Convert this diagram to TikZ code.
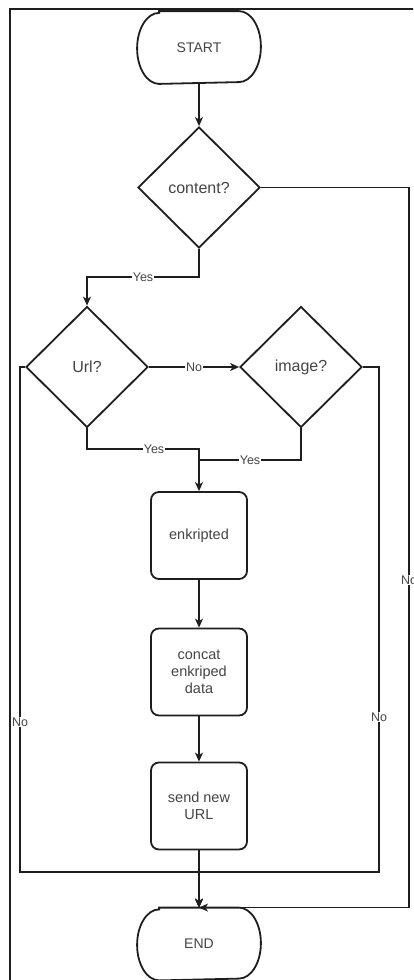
\documentclass[tikz,border=0pt]{standalone}
\usepackage{fontspec}
\setmainfont{Liberation Sans}
\usetikzlibrary{shapes.geometric,arrows.meta,calc}
\definecolor{txt}{RGB}{68,68,68}
\definecolor{ln}{RGB}{30,30,30}
\newcommand{\termoutline}[1]{%
  \draw[line width=1.8pt,draw=ln] ($(#1.north west)+(22,0)$) -- ($(#1.north east)+(-22,0)$)
    arc[start angle=90,end angle=-90,x radius=22pt,y radius=35.5pt]
    -- ($(#1.south west)+(22,0)$)
    arc[start angle=270,end angle=90,x radius=22pt,y radius=35.5pt] -- cycle;}
\begin{document}
\begin{tikzpicture}[x=1pt,y=-1pt,
  term/.style={minimum width=122pt,minimum height=71pt,inner sep=0pt,outer sep=0.9pt,text=txt,font=\fontsize{14}{16.8}\selectfont},
  dec/.style={draw=ln,line width=1.8pt,diamond,aspect=1,minimum width=122pt,minimum height=121pt,inner sep=0pt,text=txt,font=\fontsize{16}{19}\selectfont},
  proc/.style={draw=ln,line width=1.8pt,rounded corners=8pt,minimum width=96pt,minimum height=87pt,inner sep=0pt,align=center,text=txt,font=\fontsize{14.5}{16.7}\selectfont},
  conn/.style={draw=ln,line width=1.1pt},
  arr/.style={conn,-{Stealth[length=9pt,width=8pt,inset=2.5pt]}},
  lbl/.style={fill=white,inner sep=0.6pt,text=txt,font=\fontsize{12.5}{14}\selectfont}
]
\clip (0,0) rectangle (413,980);
\useasboundingbox (0,0) rectangle (413,980);
% frame
\draw[line width=2pt,draw=ln] (10,1000) -- (10,9) -- (430,9);

\node[term] (start) at (199,47.5) {START};
\termoutline{start}
\node[dec] (content) at (199,187.5) {content?};
\node[dec] (url) at (87,367) {Url?};
\node[dec] (image) at (301,367) {image?};
\node[proc] (enc) at (199,535.5) {enkripted};
\node[proc] (concat) at (199,672) {concat\\enkriped\\data};
\node[proc] (send) at (199,806) {send new\\URL};
\node[term] (end) at (199,944) {END};
\termoutline{end}

\coordinate (cr) at (409,187.5);
\coordinate (cy) at (199,277);
\coordinate (my) at (199,449);
\coordinate (mi) at (199,460);
\coordinate (bl) at (20,872);
\coordinate (br) at (379,872);
\coordinate (bm) at (199,872);

\draw[arr] (start) -- (content);
\draw[arr] (content.east) -- (cr) |- (end.north);
\node[lbl] at (409,580) {No};
\draw[arr] (content.south) -- (cy) -| (url.north) node[lbl,pos=0.25] {Yes};
\draw[arr] (url.east) -- (image.west) node[lbl,midway] {No};
\draw[arr] (url.south) |- (my) -- (enc.north);
\node[lbl] at (154,449) {Yes};
\draw[conn] (image.south) |- (mi);
\node[lbl] at (250,460) {Yes};
\draw[arr] (enc) -- (concat);
\draw[arr] (concat) -- (send);
\draw[arr] (send) -- (end);
\draw[arr] (url.west) -| (bl) -- (bm) -- (end.north);
\node[lbl] at (20,722) {No};
\draw[arr] (image.east) -| (br) -- (bm) -- (end.north);
\node[lbl] at (379,717) {No};
\end{tikzpicture}
\end{document}
